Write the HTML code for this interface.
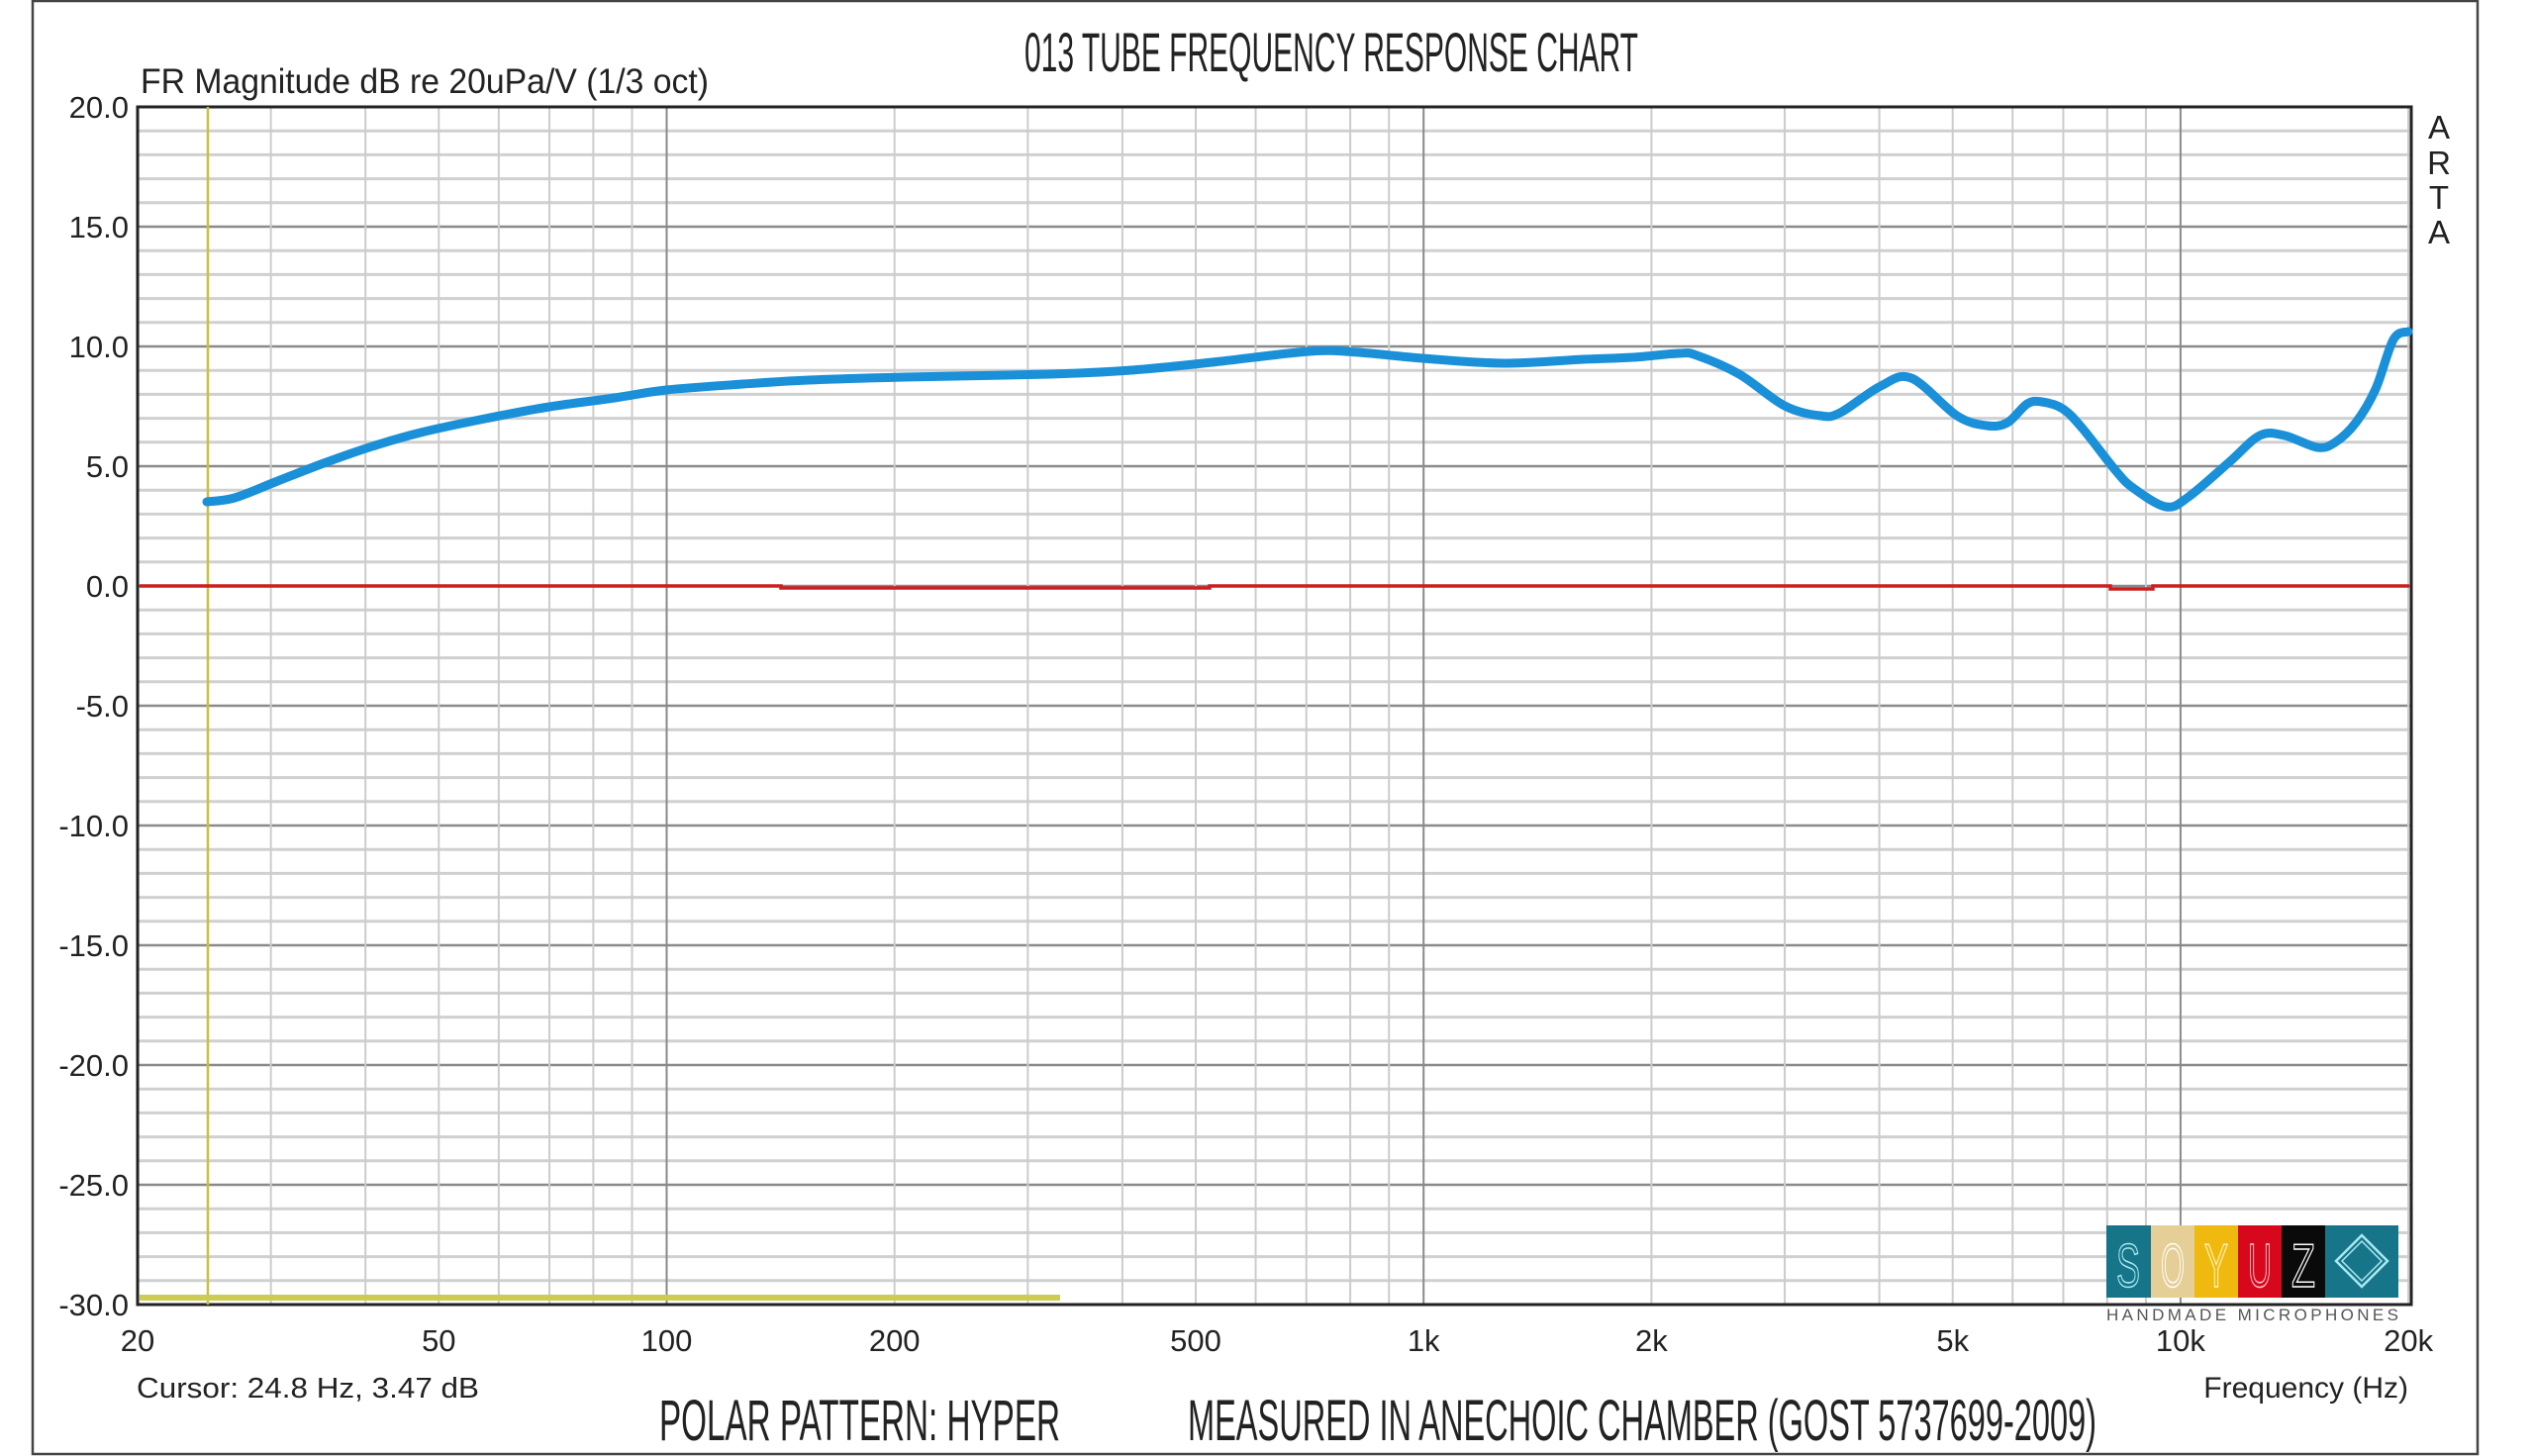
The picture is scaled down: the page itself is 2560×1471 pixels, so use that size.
<!DOCTYPE html>
<html><head><meta charset="utf-8"><style>html,body{margin:0;padding:0;background:#fff}svg{display:block}</style></head>
<body>
<svg id="s" xmlns="http://www.w3.org/2000/svg" width="2560" height="1471" viewBox="0 0 2560 1471" font-family="Liberation Sans, sans-serif">
<rect x="0" y="0" width="2560" height="1471" fill="#fff"/>
<rect x="33" y="1" width="2470" height="1468" fill="none" stroke="#444" stroke-width="2.5"/>
<g id="grid"></g>
<rect x="139" y="108" width="2297" height="1210" fill="none" stroke="#222" stroke-width="3"/>
<line x1="210" y1="108" x2="210" y2="1318" stroke="#c8c040" stroke-width="2.5"/>
<line x1="141" y1="1311" x2="1071" y2="1311" stroke="#cccc55" stroke-width="6"/>
<polyline fill="none" stroke="#cc1f1f" stroke-width="3.5" points="141,592 789,592 789,594 1222,594 1222,592 2132,592 2132,595 2175,595 2175,592 2434,592"/>
<path id="curve" fill="none" stroke="#1a90d9" stroke-width="9" stroke-linejoin="round" stroke-linecap="round" d=""/>
<g id="ylab" font-size="31" fill="#222" text-anchor="end"></g>
<g id="xlab" font-size="31" fill="#222" text-anchor="middle"></g>
<text x="1035" y="72" font-size="56" fill="#222" textLength="620" lengthAdjust="spacingAndGlyphs">013 TUBE FREQUENCY RESPONSE CHART</text>
<text x="142" y="94" font-size="35" fill="#222" textLength="574" lengthAdjust="spacingAndGlyphs">FR Magnitude dB re 20uPa/V (1/3 oct)</text>
<text x="138" y="1412" font-size="29" fill="#222" textLength="346" lengthAdjust="spacingAndGlyphs">Cursor: 24.8 Hz, 3.47 dB</text>
<text x="2433" y="1412" font-size="30" fill="#222" text-anchor="end">Frequency (Hz)</text>
<text x="666" y="1455" font-size="58" fill="#222" textLength="405" lengthAdjust="spacingAndGlyphs">POLAR PATTERN: HYPER</text>
<text x="1200" y="1455" font-size="58" fill="#222" textLength="918" lengthAdjust="spacingAndGlyphs">MEASURED IN ANECHOIC CHAMBER (GOST 5737699-2009)</text>
<g font-size="33" fill="#222" text-anchor="middle">
<text x="2464" y="140">A</text><text x="2464" y="176">R</text><text x="2464" y="211">T</text><text x="2464" y="246">A</text>
</g>
<g transform="translate(2128,1238)">
<rect x="0" y="0" width="45" height="73" fill="#17758a"/>
<rect x="45" y="0" width="44" height="73" fill="#e6cf96"/>
<rect x="89" y="0" width="44" height="73" fill="#f0b90f"/>
<rect x="133" y="0" width="44" height="73" fill="#d8081c"/>
<rect x="177" y="0" width="44" height="73" fill="#0a0a0a"/>
<rect x="221" y="0" width="74" height="73" fill="#17758a"/>
<g font-size="62" fill="none" stroke="#fff" stroke-width="1.6" text-anchor="middle">
<text x="22" y="62" textLength="24" lengthAdjust="spacingAndGlyphs" stroke="#a8e8f0">S</text>
<text x="67" y="62" textLength="24" lengthAdjust="spacingAndGlyphs">O</text>
<text x="111" y="62" textLength="24" lengthAdjust="spacingAndGlyphs" stroke="#fff6c0">Y</text>
<text x="155" y="62" textLength="24" lengthAdjust="spacingAndGlyphs" stroke="#ffc0c8">U</text>
<text x="199" y="62" textLength="24" lengthAdjust="spacingAndGlyphs">Z</text>
</g>
<polygon points="258,10 284,36 258,62 232,36" fill="none" stroke="#a8e8f0" stroke-width="2.5"/>
<polygon points="258,16 278,36 258,56 238,36" fill="none" stroke="#a8e8f0" stroke-width="1.5"/>
<text x="0" y="96" font-size="17" fill="#555" textLength="295" lengthAdjust="spacing">HANDMADE MICROPHONES</text>
</g>
</svg>
<script>
var NS="http://www.w3.org/2000/svg";
function el(p,t,a,txt){var e=document.createElementNS(NS,t);for(var k in a)e.setAttribute(k,a[k]);if(txt)e.textContent=txt;p.appendChild(e);return e;}
var g=document.getElementById('grid');
var L=139,R=2436,T=108,B=1318;
function X(f){return L+764.7*Math.log10(f/20);}
for(var d=-30;d<=20;d++){var y=T+(20-d)*24.2;var maj=(d%5==0);
 el(g,'line',{x1:L,x2:R,y1:y,y2:y,stroke:maj?'#8a8a8a':'#d0d0d0','stroke-width':maj?2.5:3});}
var fs=[];for(var dec=10;dec<=10000;dec*=10)for(var m=1;m<10;m++){var f=dec*m;if(f>=20&&f<=20000)fs.push(f);}
fs.push(20000);
fs.forEach(function(f){var x=X(f);var maj=(f==100||f==1000||f==10000);
 el(g,'line',{x1:x,x2:x,y1:T,y2:B,stroke:maj?'#8a8a8a':'#cccccc','stroke-width':2});});
var yl=document.getElementById('ylab');
for(var d=20;d>=-30;d-=5){el(yl,'text',{x:130,y:T+(20-d)*24.2+11},d.toFixed(1));}
var xl=document.getElementById('xlab');
[[20,'20'],[50,'50'],[100,'100'],[200,'200'],[500,'500'],[1000,'1k'],[2000,'2k'],[5000,'5k'],[10000,'10k'],[20000,'20k']].forEach(function(a){el(xl,'text',{x:X(a[0]),y:1365},a[1]);});
var P=[[209,507],[237,503],[278,487],[327,468],[376,451],[425,437],[490,423],[555,411],[621,402],[673,394],[751,388],[817,384],[914,381],[1061,378],[1143,374],[1225,366],[1323,355],[1372,356],[1437,362],[1519,367],[1600,363],[1650,361],[1696,357],[1714,359],[1757,378],[1803,410],[1839,420],[1859,417],[1900,390],[1931,382],[1977,420],[2007,430],[2028,427],[2048,408],[2063,406],[2084,413],[2104,433],[2137,475],[2155,493],[2188,512],[2211,502],[2252,467],[2283,440],[2308,440],[2341,452],[2359,447],[2380,427],[2400,393],[2418,343],[2433,335]];
var dstr="M"+P[0][0]+","+P[0][1];
for(var i=0;i<P.length-1;i++){var p0=P[Math.max(0,i-1)],p1=P[i],p2=P[i+1],p3=P[Math.min(P.length-1,i+2)];
 var c1x=p1[0]+(p2[0]-p0[0])/6,c1y=p1[1]+(p2[1]-p0[1])/6,c2x=p2[0]-(p3[0]-p1[0])/6,c2y=p2[1]-(p3[1]-p1[1])/6;
 dstr+=" C"+c1x+","+c1y+" "+c2x+","+c2y+" "+p2[0]+","+p2[1];}
document.getElementById('curve').setAttribute('d',dstr);
</script>
</body></html>
